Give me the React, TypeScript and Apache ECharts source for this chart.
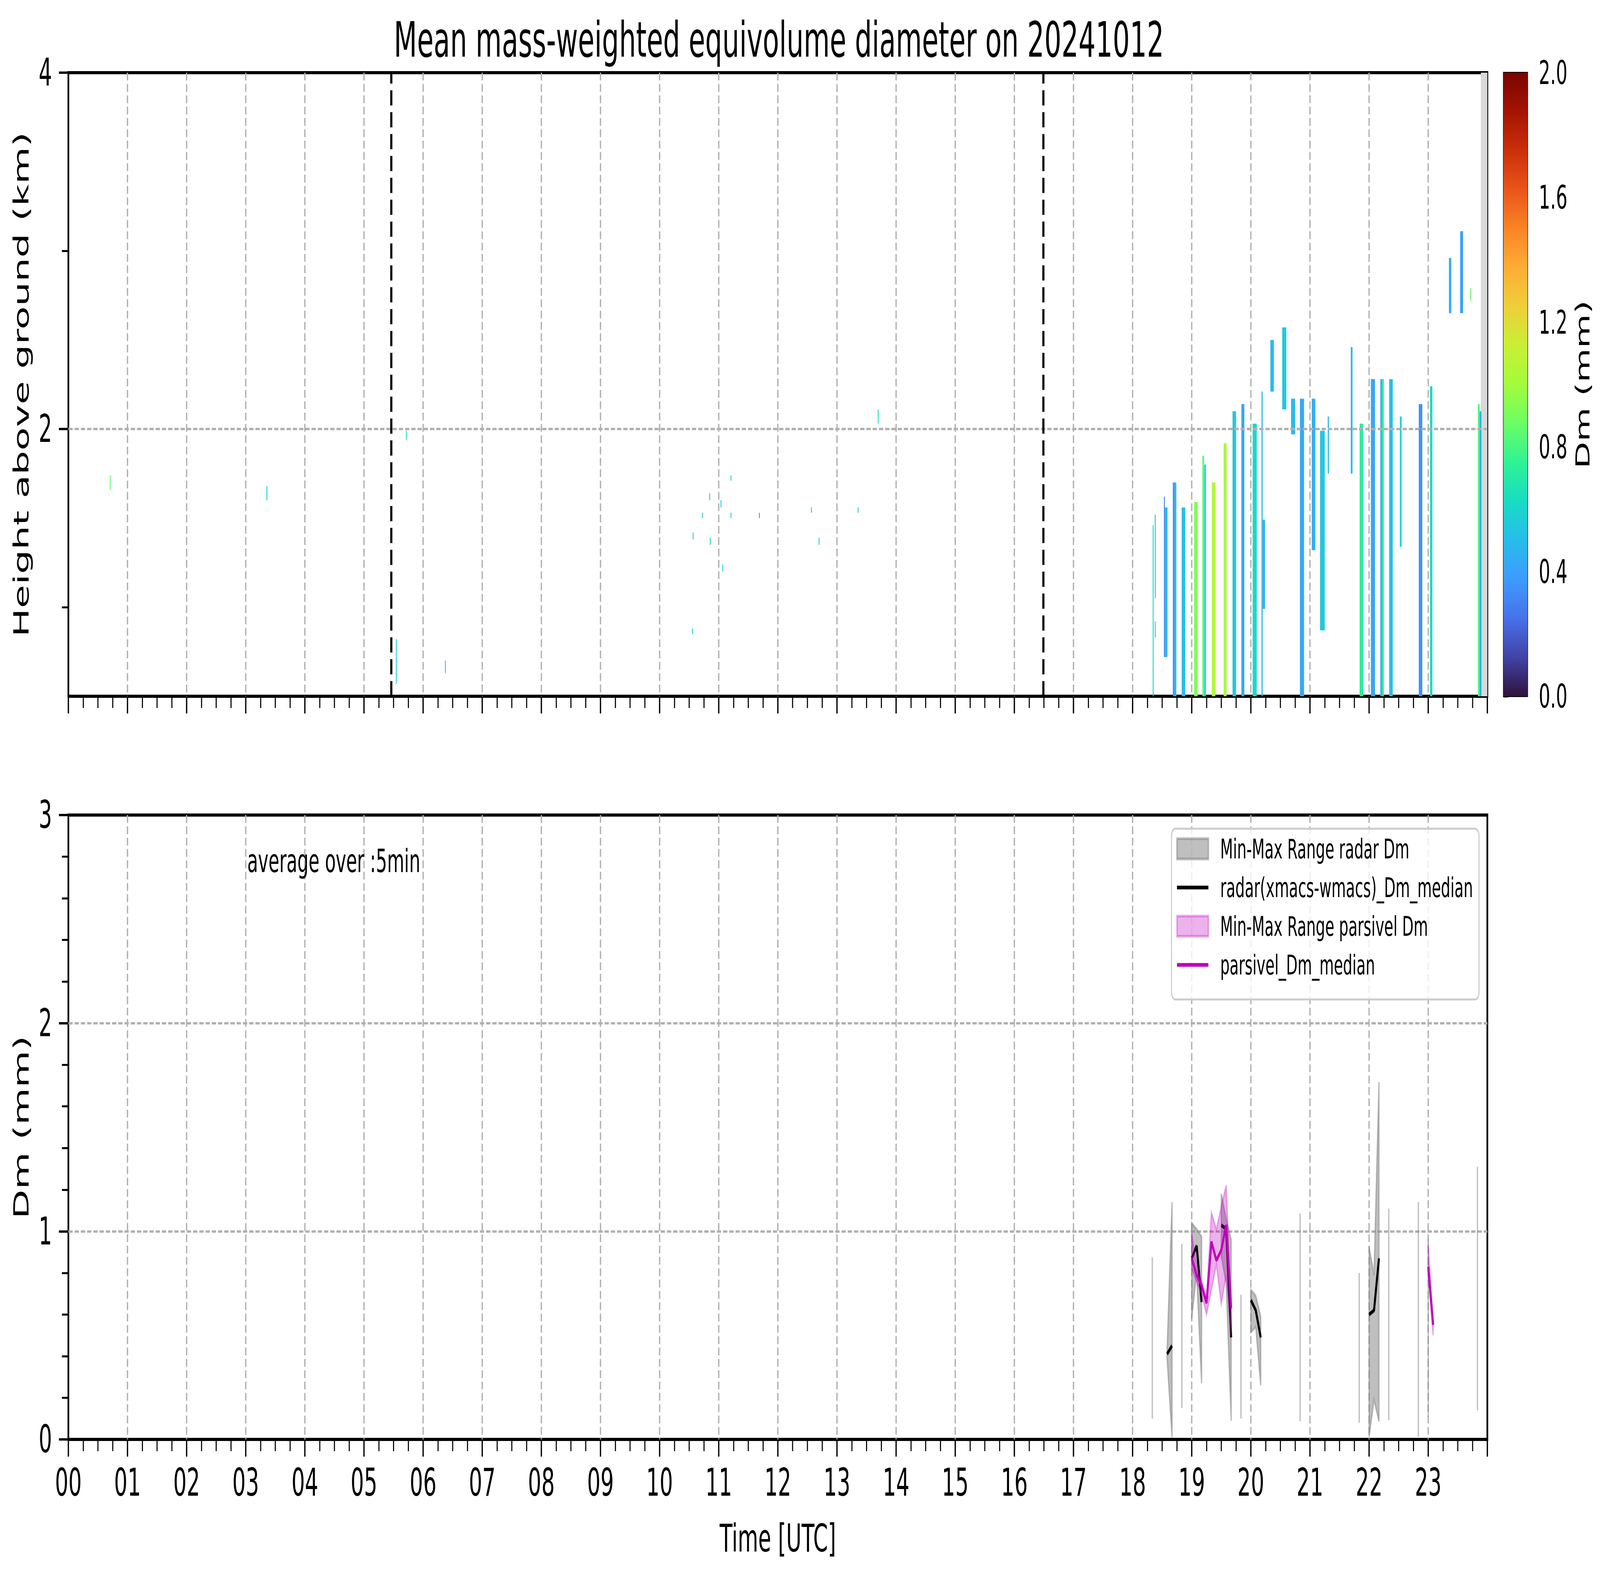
import React, { useEffect, useRef } from 'react';
import * as echarts from 'echarts';

const TITLE = 'Mean mass-weighted equivolume diameter on 20241012';
const FONT = 'DejaVu Sans';
const REF_W = 7442;
const REF_H = 4031;

// Upper panel: radar Dm columns (hour start, hour end, bottom km, top km, Dm mm)
const colStart = [0.70, 3.35, 5.54, 5.71, 6.37, 10.55, 10.56, 10.72, 10.84, 10.85, 11.03, 11.06, 11.20, 11.20, 11.68, 12.56, 12.69, 13.35, 13.69,
  18.34, 18.375, 18.375, 18.53, 18.545, 18.68, 18.71, 18.83, 19.04, 19.18, 19.21, 19.34, 19.54, 19.69, 19.84, 20.03, 20.18, 20.20, 20.33, 20.53,
  20.68, 20.83, 21.03, 21.17, 21.30, 21.69, 21.84, 22.03, 22.19, 22.22, 22.34, 22.52, 22.84, 23.03, 23.35, 23.54, 23.71, 23.84, 23.87];
const colEnd = [0.715, 3.365, 5.552, 5.722, 6.382, 10.562, 10.572, 10.732, 10.852, 10.862, 11.042, 11.072, 11.212, 11.212, 11.692, 12.572, 12.702, 13.362, 13.702,
  18.355, 18.39, 18.39, 18.545, 18.59, 18.71, 18.74, 18.89, 19.10, 19.21, 19.24, 19.40, 19.59, 19.75, 19.89, 20.10, 20.20, 20.24, 20.39, 20.60,
  20.75, 20.90, 21.09, 21.25, 21.32, 21.72, 21.90, 22.10, 22.22, 22.25, 22.40, 22.55, 22.90, 23.07, 23.39, 23.59, 23.725, 23.87, 23.90];
const colBottom = [1.66, 1.60, 0.57, 1.94, 0.63, 0.85, 1.38, 1.50, 1.60, 1.35, 1.56, 1.20, 1.71, 1.50, 1.50, 1.53, 1.35, 1.53, 2.03,
  0.50, 1.05, 0.83, 0.72, 0.72, 0.50, 0.50, 0.50, 0.50, 0.50, 0.50, 0.50, 0.50, 0.50, 0.50, 0.50, 0.50, 0.99, 2.21, 2.11,
  1.97, 0.50, 1.32, 0.87, 1.75, 1.75, 0.50, 0.50, 0.50, 0.50, 0.50, 1.34, 0.50, 0.50, 2.65, 2.65, 2.72, 0.50, 0.50];
const colTop = [1.74, 1.68, 0.82, 1.99, 0.70, 0.88, 1.42, 1.53, 1.64, 1.39, 1.60, 1.24, 1.74, 1.53, 1.53, 1.56, 1.39, 1.56, 2.11,
  1.46, 1.52, 0.92, 1.62, 1.56, 1.70, 1.70, 1.56, 1.59, 1.85, 1.80, 1.70, 1.92, 2.10, 2.14, 2.03, 2.21, 1.49, 2.50, 2.57,
  2.17, 2.17, 2.17, 1.99, 2.07, 2.46, 2.03, 2.28, 2.28, 2.28, 2.28, 2.07, 2.14, 2.24, 2.96, 3.11, 2.79, 2.14, 2.10];
const colDm = [0.85, 0.60, 0.55, 0.60, 0.55, 0.55, 0.60, 0.55, 0.60, 0.55, 0.55, 0.60, 0.60, 0.55, 0.35, 0.55, 0.60, 0.55, 0.65,
  0.60, 0.50, 0.55, 0.30, 0.50, 0.35, 0.50, 0.50, 0.92, 0.85, 0.62, 1.05, 1.02, 0.55, 0.42, 0.62, 0.50, 0.45, 0.50, 0.55,
  0.50, 0.42, 0.45, 0.55, 0.50, 0.50, 0.72, 0.42, 0.45, 0.75, 0.50, 0.60, 0.35, 0.62, 0.45, 0.40, 0.85, 0.80, 0.45];

const cutLines = [5.465, 16.49];
const noDataStart = 23.89;
const noDataEnd = 24;

// Lower panel: 5-min radar statistics (null = no data)
const radarTime = [18.333, 18.417, 18.583, 18.667, 18.75, 18.833, 18.917, 19.0, 19.083, 19.167, 19.25, 19.5, 19.583, 19.667, 19.75, 19.833, 19.917,
  20.0, 20.083, 20.167, 20.25, 20.833, 20.917, 21.833, 21.917, 22.0, 22.083, 22.167, 22.25, 22.333, 22.417, 22.833, 22.917, 23.0, 23.083, 23.833];
const radarMin = [0.10, null, 0.39, 0.01, null, 0.15, null, 0.58, 0.80, 0.27, null, 0.88, 0.75, 0.09, null, 0.10, null,
  0.515, 0.54, 0.26, null, 0.087, null, 0.08, null, 0.012, 0.19, 0.087, null, 0.092, null, 0.012, null, 0.108, null, 0.14];
const radarMax = [0.875, null, 0.43, 1.14, null, 0.94, null, 1.04, 1.01, 0.975, null, 1.18, 1.06, 0.96, null, 0.695, null,
  0.72, 0.69, 0.59, null, 1.085, null, 0.80, null, 0.925, 0.79, 1.716, null, 1.108, null, 1.14, null, 0.964, null, 1.31];
const radarMedian = [null, null, 0.41, 0.45, null, null, null, 0.87, 0.93, 0.66, null, 1.03, 1.01, 0.49, null, null, null,
  0.67, 0.62, 0.49, null, null, null, null, null, 0.60, 0.62, 0.87, null, null, null, null, null, null, null, null];

const parsTime = [19.0, 19.083, 19.167, 19.25, 19.333, 19.417, 19.5, 19.583, 19.667, 19.75, 23.0, 23.083];
const parsMin = [0.82, 0.76, 0.70, 0.60, 0.72, 0.84, 0.65, 0.79, 0.50, null, 0.80, 0.50];
const parsMax = [0.99, 0.83, 0.76, 0.68, 1.09, 1.01, 1.12, 1.22, 0.64, null, 0.94, 0.57];
const parsMedian = [0.87, 0.79, 0.74, 0.655, 0.95, 0.86, 0.91, 1.03, 0.63, null, 0.83, 0.55];

const upperLabelTicks = [2, 4];
const upperMinorTicks = [1, 3];
const colorbarTicks = [0, 0.4, 0.8, 1.2, 1.6, 2.0];

const TURBO = ['#30123b', '#4143a7', '#4771e9', '#3e9bfe', '#28bceb', '#18dcc3', '#2ff295', '#6bfe64', '#a2fc3c',
  '#c9ef34', '#eecf3a', '#fdad35', '#fa8425', '#e9551a', '#cb2f0a', '#a41403', '#7a0403'];

const NAME_RR = 'Min-Max Range radar Dm';
const NAME_RM = 'radar(xmacs-wmacs)_Dm_median';
const NAME_PR = 'Min-Max Range parsivel Dm';
const NAME_PM = 'parsivel_Dm_median';

function segmentsOf(mins: (number | null)[]) {
  const segs: number[][] = [];
  let cur: number[] = [];
  mins.forEach((v, i) => {
    if (v === null) { if (cur.length) segs.push(cur); cur = []; }
    else cur.push(i);
  });
  if (cur.length) segs.push(cur);
  return segs;
}

function buildOption() {
  const GRID_LINE = { color: '#b0b0b0', width: 6, type: [20, 9] as any };
  const LINE_ICON = 'path://M0,0M146,52M0,21.25h146v9.5h-146z';
  const axisTickStyle = { color: '#000', width: 6 };
  const minorTickStyle = { color: '#000', width: 5 };

  const stripes = colStart.map((s, i) => [s, colEnd[i], colBottom[i], colTop[i], colDm[i]]);
  const rSegs = segmentsOf(radarMin);
  const pSegs = segmentsOf(parsMin);

  const rangeSeries = (name: string, t: number[], mn: (number | null)[], mx: (number | null)[], segs: number[][], fill: string, z: number) => ({
    name, type: 'custom', xAxisIndex: 1, yAxisIndex: 2, z,
    encode: { x: [1, 2], y: [3, 4] },
    data: segs.map((seg, k) => [k, t[seg[0]], t[seg[seg.length - 1]], Math.min(...seg.map(i => mn[i] as number)), Math.max(...seg.map(i => mx[i] as number))]),
    renderItem: (params: any, api: any) => {
      const seg = segs[api.value(0)];
      const up = seg.map(i => api.coord([t[i], mx[i]]));
      const lo = seg.slice().reverse().map(i => api.coord([t[i], mn[i]]));
      return { type: 'polygon', shape: { points: up.concat(lo) }, style: { fill, stroke: fill, lineWidth: 6 } };
    },
  });

  const splitCommon = { show: true, showMinLine: false, showMaxLine: false, lineStyle: GRID_LINE };

  return {
    animation: false,
    backgroundColor: '#fff',
    textStyle: { fontFamily: FONT },
    title: {
      text: TITLE, left: 3618, top: 34, textAlign: 'center',
      textStyle: { fontSize: 125, fontWeight: 'normal', color: '#000', fontFamily: FONT },
    },
    grid: [
      { left: 318, top: 186, width: 6600, height: 1596, show: true, borderColor: '#000', borderWidth: 8, backgroundColor: 'transparent' },
      { left: 318, top: 2086, width: 6600, height: 1598, show: true, borderColor: '#000', borderWidth: 8, backgroundColor: 'transparent' },
      { left: 6993, top: 186, width: 112, height: 1596, show: true, borderColor: '#000', borderWidth: 4, backgroundColor: 'transparent' },
    ],
    xAxis: [
      {
        gridIndex: 0, type: 'value', min: 0, max: 24, interval: 1,
        axisLine: { show: false }, axisLabel: { show: false },
        axisTick: { show: true, length: 44, lineStyle: axisTickStyle },
        minorTick: { show: true, splitNumber: 4, length: 30, lineStyle: minorTickStyle },
        splitLine: splitCommon,
      },
      {
        gridIndex: 1, type: 'value', min: 0, max: 24, interval: 1,
        axisLine: { show: false },
        axisLabel: {
          show: true, fontSize: 98, color: '#000', fontFamily: FONT, margin: 62,
          formatter: (v: number) => (v >= 24 ? '' : String(v).padStart(2, '0')),
        },
        axisTick: { show: true, length: 44, lineStyle: axisTickStyle },
        minorTick: { show: true, splitNumber: 4, length: 30, lineStyle: minorTickStyle },
        splitLine: splitCommon,
        name: 'Time [UTC]', nameLocation: 'middle', nameGap: 205,
        nameTextStyle: { fontSize: 98, color: '#000', fontFamily: FONT },
      },
      { gridIndex: 2, type: 'value', min: 0, max: 1, show: false },
    ],
    yAxis: [
      {
        gridIndex: 0, type: 'value', min: 0.5, max: 4, position: 'left',
        axisLine: { show: false },
        axisTick: { show: true, length: 44, lineStyle: axisTickStyle, customValues: upperLabelTicks },
        axisLabel: { show: true, fontSize: 98, color: '#000', fontFamily: FONT, margin: 76, customValues: upperLabelTicks },
        splitLine: { show: false },
        name: 'Height above ground (km)', nameLocation: 'middle', nameGap: 170, nameRotate: 90,
        nameTextStyle: { fontSize: 98, color: '#000', fontFamily: FONT },
      },
      {
        gridIndex: 0, type: 'value', min: 0.5, max: 4, position: 'left',
        axisLine: { show: false },
        axisTick: { show: true, length: 30, lineStyle: minorTickStyle, customValues: upperMinorTicks },
        axisLabel: { show: false }, splitLine: { show: false },
      },
      {
        gridIndex: 1, type: 'value', min: 0, max: 3, interval: 1, position: 'left',
        axisLine: { show: false },
        axisTick: { show: true, length: 44, lineStyle: axisTickStyle },
        minorTick: { show: true, splitNumber: 5, length: 30, lineStyle: minorTickStyle },
        axisLabel: { show: true, fontSize: 98, color: '#000', fontFamily: FONT, margin: 76 },
        splitLine: splitCommon,
        name: 'Dm (mm)', nameLocation: 'middle', nameGap: 170, nameRotate: 90,
        nameTextStyle: { fontSize: 98, color: '#000', fontFamily: FONT },
      },
      {
        gridIndex: 2, type: 'value', min: 0, max: 2, interval: 0.4, position: 'right',
        axisLine: { show: false },
        axisTick: { show: true, length: 22, lineStyle: { color: '#000', width: 5 } },
        axisLabel: { show: true, fontSize: 84, color: '#000', fontFamily: FONT, margin: 52, formatter: (v: number) => v.toFixed(1) },
        splitLine: { show: false },
        name: 'Dm (mm)', nameLocation: 'middle', nameGap: 212, nameRotate: 90,
        nameTextStyle: { fontSize: 90, color: '#000', fontFamily: FONT },
      },
    ],
    visualMap: {
      type: 'continuous', show: false, seriesIndex: 1, dimension: 4, min: 0, max: 2,
      inRange: { color: TURBO },
    },
    legend: {
      orient: 'vertical', left: 5449, top: 2121, itemWidth: 146, itemHeight: 52, itemGap: 30,
      padding: [17, 28, 54, 22], backgroundColor: 'rgba(255,255,255,0.8)', borderColor: '#cccccc',
      borderWidth: 5, borderRadius: 18, selectedMode: false,
      textStyle: { fontSize: 69, color: '#000', fontFamily: FONT, padding: [0, 0, 0, 50], lineHeight: 52 },
      data: [
        { name: NAME_RR, icon: 'rect', itemStyle: { color: 'rgba(128,128,128,0.5)', borderColor: 'rgba(128,128,128,0.5)', borderWidth: 7 } },
        { name: NAME_RM, icon: LINE_ICON, itemStyle: { color: '#000', borderWidth: 0 } },
        { name: NAME_PR, icon: 'rect', itemStyle: { color: 'rgba(191,0,191,0.3)', borderColor: 'rgba(191,0,191,0.3)', borderWidth: 7 } },
        { name: NAME_PM, icon: LINE_ICON, itemStyle: { color: '#bf00bf', borderWidth: 0 } },
      ],
    },
    graphic: [
      {
        type: 'text', x: 1150, y: 2204, z: 10,
        style: { text: 'average over :5min', fontSize: 82, fontFamily: FONT, fill: '#000', align: 'left', verticalAlign: 'middle' },
      },
    ],
    series: [
      {
        name: 'noData', type: 'line', xAxisIndex: 0, yAxisIndex: 0, data: [], z: 1, silent: true,
        markArea: { silent: true, itemStyle: { color: '#d9d9d9', opacity: 1 }, data: [[{ xAxis: noDataStart }, { xAxis: noDataEnd }]] },
      },
      {
        name: 'Dm radar', type: 'custom', xAxisIndex: 0, yAxisIndex: 0, z: 2,
        encode: { x: [0, 1], y: [2, 3] },
        data: stripes,
        renderItem: (params: any, api: any) => {
          const p0 = api.coord([api.value(0), api.value(3)]);
          const p1 = api.coord([api.value(1), api.value(2)]);
          return {
            type: 'rect',
            shape: { x: p0[0], y: p0[1], width: Math.max(p1[0] - p0[0], 4), height: p1[1] - p0[1] },
            style: { fill: api.visual('color') },
          };
        },
      },
      {
        name: 'marks', type: 'line', xAxisIndex: 0, yAxisIndex: 0, data: [], z: 5, silent: true,
        markLine: {
          silent: true, symbol: ['none', 'none'], label: { show: false },
          data: [
            { yAxis: 2, lineStyle: GRID_LINE },
            ...cutLines.map(x => ({ xAxis: x, lineStyle: { color: '#000', width: 10, type: [39, 17] } })),
          ],
        },
      },
      rangeSeries(NAME_RR, radarTime, radarMin, radarMax, rSegs, 'rgba(128,128,128,0.5)', 2),
      {
        name: NAME_RM, type: 'line', xAxisIndex: 1, yAxisIndex: 2, z: 3, showSymbol: false, symbol: 'none', connectNulls: false,
        color: '#000', lineStyle: { color: '#000', width: 9.5 },
        data: radarTime.map((t, i) => [t, radarMedian[i] === null ? '-' : radarMedian[i]]),
      },
      rangeSeries(NAME_PR, parsTime, parsMin, parsMax, pSegs, 'rgba(191,0,191,0.3)', 4),
      {
        name: NAME_PM, type: 'line', xAxisIndex: 1, yAxisIndex: 2, z: 5, showSymbol: false, symbol: 'none', connectNulls: false,
        color: '#bf00bf', lineStyle: { color: '#bf00bf', width: 9.5 },
        data: parsTime.map((t, i) => [t, parsMedian[i] === null ? '-' : parsMedian[i]]),
      },
      {
        name: 'colorbar', type: 'custom', xAxisIndex: 2, yAxisIndex: 3, z: 2, silent: true,
        data: [[0, 1, colorbarTicks[0], colorbarTicks[colorbarTicks.length - 1]]],
        encode: { x: [0, 1], y: [2, 3] },
        renderItem: (params: any, api: any) => {
          const p0 = api.coord([api.value(0), api.value(3)]);
          const p1 = api.coord([api.value(1), api.value(2)]);
          const stops = TURBO.map((c, i) => ({ offset: i / (TURBO.length - 1), color: c }));
          return {
            type: 'rect',
            shape: { x: p0[0], y: p0[1], width: p1[0] - p0[0], height: p1[1] - p0[1] },
            style: { fill: new echarts.graphic.LinearGradient(0, 1, 0, 0, stops) },
          };
        },
      },
    ],
  };
}

export default function App() {
  const ref = useRef<HTMLDivElement>(null);
  const sx = (typeof window !== 'undefined' ? window.innerWidth : REF_W) / REF_W;
  const sy = (typeof window !== 'undefined' ? window.innerHeight : REF_H) / REF_H;
  useEffect(() => {
    const el = ref.current;
    if (!el) return;
    document.body.style.margin = '0';
    document.body.style.overflow = 'hidden';
    const chart = echarts.init(el, undefined, { renderer: 'svg', width: REF_W, height: REF_H });
    chart.setOption(buildOption() as any);
    return () => chart.dispose();
  }, []);
  return (
    <div
      ref={ref}
      style={{
        position: 'fixed', left: 0, top: 0, width: REF_W, height: REF_H,
        transformOrigin: '0 0', transform: `scale(${sx}, ${sy})`, background: '#fff',
      }}
    />
  );
}
